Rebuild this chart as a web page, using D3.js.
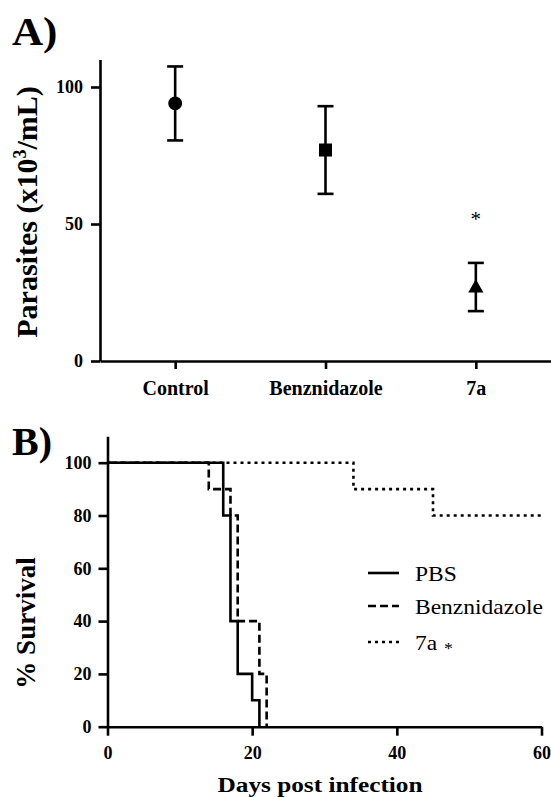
<!DOCTYPE html>
<html><head><meta charset="utf-8">
<script src="https://cdn.jsdelivr.net/npm/d3@7"></script>
<style>
body{margin:0;background:#fff}
svg{display:block}
text{font-family:"Liberation Serif","Times New Roman",serif;fill:#000}
</style>
</head><body><svg id="c" width="551" height="797"></svg>
<script>
// ---- Panel A data ----
const groups = ["Control", "Benznidazole", "7a"];
const parasiteMean = [94, 77, 27];
const parasiteErr = [13.5, 16, 8.8];
const parasiteMarkers = ["circle", "square", "triangle"];
const yTicksA = [0, 50, 100];
const asteriskGroup = "7a";
const asteriskValue = 53;

// ---- Panel B data ----
const survivalSeries = ["PBS", "Benznidazole", "7a"];
const pbsDays = [0, 16, 17, 18, 20, 21];
const pbsSurvival = [100, 80, 40, 20, 10, 0];
const benzDays = [0, 14, 17, 18, 21, 22];
const benzSurvival = [100, 90, 80, 40, 20, 0];
const a7Days = [0, 34, 45, 60];
const a7Survival = [100, 90, 80, 80];
const xTicksB = [0, 20, 40, 60];
const yTicksB = [0, 20, 40, 60, 80, 100];

const svg = d3.select("#c");
const SW = 2.6;

function styleAxis(g, fs) {
  g.selectAll("path.domain").attr("stroke", "#000").attr("stroke-width", SW);
  g.selectAll(".tick line").attr("stroke", "#000").attr("stroke-width", SW);
  g.selectAll(".tick text").attr("font-size", fs).attr("font-weight", "bold")
    .attr("font-family", '"Liberation Serif","Times New Roman",serif').attr("fill", "#000");
}
function htext(x, y, str, opt) {
  const t = svg.append("text")
    .attr("transform", `translate(${x},${y}) scale(${opt.sx || 1},1)`)
    .attr("font-size", opt.fs)
    .attr("font-weight", opt.bold ? "bold" : "normal")
    .attr("text-anchor", opt.anchor || "start")
    .text(str);
  return t;
}

// ================= Panel A =================
const xA = d3.scalePoint().domain(groups).range([100, 551]).padding(0.5);
const yA = d3.scaleLinear().domain([0, 110]).range([361, 59.6]);

const gyA = svg.append("g").attr("transform", "translate(100,0)")
  .call(d3.axisLeft(yA).tickValues(yTicksA).tickSize(9).tickPadding(8).tickSizeOuter(0));
styleAxis(gyA, 18);
const gxA = svg.append("g").attr("transform", "translate(0,361)")
  .call(d3.axisBottom(xA).tickSize(8).tickPadding(12).tickSizeOuter(0));
styleAxis(gxA, 20);

const symTypes = {circle: d3.symbolCircle, square: d3.symbolSquare, triangle: d3.symbolTriangle};
const symSizes = {circle: 150, square: 170, triangle: 100};
groups.forEach((g, i) => {
  const x = xA(g), m = parasiteMean[i], e = parasiteErr[i];
  const eg = svg.append("g").attr("stroke", "#000").attr("stroke-width", SW);
  eg.append("line").attr("x1", x).attr("x2", x).attr("y1", yA(m + e)).attr("y2", yA(m - e));
  eg.append("line").attr("x1", x - 8).attr("x2", x + 8).attr("y1", yA(m + e)).attr("y2", yA(m + e));
  eg.append("line").attr("x1", x - 8).attr("x2", x + 8).attr("y1", yA(m - e)).attr("y2", yA(m - e));
  const k = parasiteMarkers[i];
  svg.append("path")
    .attr("d", d3.symbol().type(symTypes[k]).size(symSizes[k])())
    .attr("transform", `translate(${x},${yA(m) + (k === "triangle" ? 1 : 0)})`)
    .attr("fill", "#000");
});
// significance asterisk
svg.append("text").attr("x", xA(asteriskGroup)).attr("y", yA(asteriskValue) + 10)
  .attr("font-size", 21).attr("text-anchor", "middle").text("*");

// y title A
const tA = svg.append("text")
  .attr("transform", "translate(37,212) rotate(-90)")
  .attr("font-size", 30).attr("font-weight", "bold").attr("text-anchor", "middle");
tA.append("tspan").text("Parasites (x10");
tA.append("tspan").attr("font-size", 18).attr("dy", -11).text("3");
tA.append("tspan").attr("dy", 11).text("/mL)");

htext(12, 45, "A)", {fs: 41, bold: true, sx: 1.05});

// ================= Panel B =================
const xB = d3.scaleLinear().domain([0, 60]).range([107.5, 541.5]);
const yB = d3.scaleLinear().domain([0, 110]).range([726.7, 436.3]);

const gyB = svg.append("g").attr("transform", "translate(107.5,0)")
  .call(d3.axisLeft(yB).tickValues(yTicksB).tickSize(9).tickPadding(7).tickSizeOuter(0));
styleAxis(gyB, 18);
const gxB = svg.append("g").attr("transform", "translate(0,726.7)")
  .call(d3.axisBottom(xB).tickValues(xTicksB).tickSize(9).tickPadding(11).tickSizeOuter(0));
styleAxis(gxB, 18);

const line = d3.line().x(d => xB(d[0])).y(d => yB(d[1])).curve(d3.curveStepAfter);
const curves = [
  {name: "7a", days: a7Days, surv: a7Survival, dash: "3,4"},
  {name: "Benznidazole", days: benzDays, surv: benzSurvival, dash: "8,4"},
  {name: "PBS", days: pbsDays, surv: pbsSurvival, dash: null}
];
curves.forEach(c => {
  svg.append("path")
    .attr("d", line(c.days.map((d, i) => [d, c.surv[i]])))
    .attr("fill", "none").attr("stroke", "#000").attr("stroke-width", SW)
    .attr("stroke-dasharray", c.dash);
});

// legend
const legendDash = {"PBS": null, "Benznidazole": "8,4", "7a": "3,4"};
const legendY = [573, 606, 642];
const legendLabels = ["PBS", "Benznidazole", "7a"];
survivalSeries.forEach((s, i) => {
  svg.append("line").attr("x1", 368).attr("x2", 399).attr("y1", legendY[i]).attr("y2", legendY[i])
    .attr("stroke", "#000").attr("stroke-width", SW).attr("stroke-dasharray", legendDash[s]);
  const t = htext(415, legendY[i] + 8, legendLabels[i], {fs: 21, sx: 1.12});
  if (s === asteriskGroup) {
    t.append("tspan").attr("font-size", 16).attr("dx", 6).attr("dy", 4).text("*");
  }
});

// y title B
svg.append("text")
  .attr("transform", "translate(35,623) rotate(-90)")
  .attr("font-size", 27).attr("font-weight", "bold").attr("text-anchor", "middle")
  .text("% Survival");
// x title B
htext(320, 792, "Days post infection", {fs: 22, bold: true, sx: 1.15, anchor: "middle"});

htext(12, 455, "B)", {fs: 40, bold: true});
</script>
</body></html>
